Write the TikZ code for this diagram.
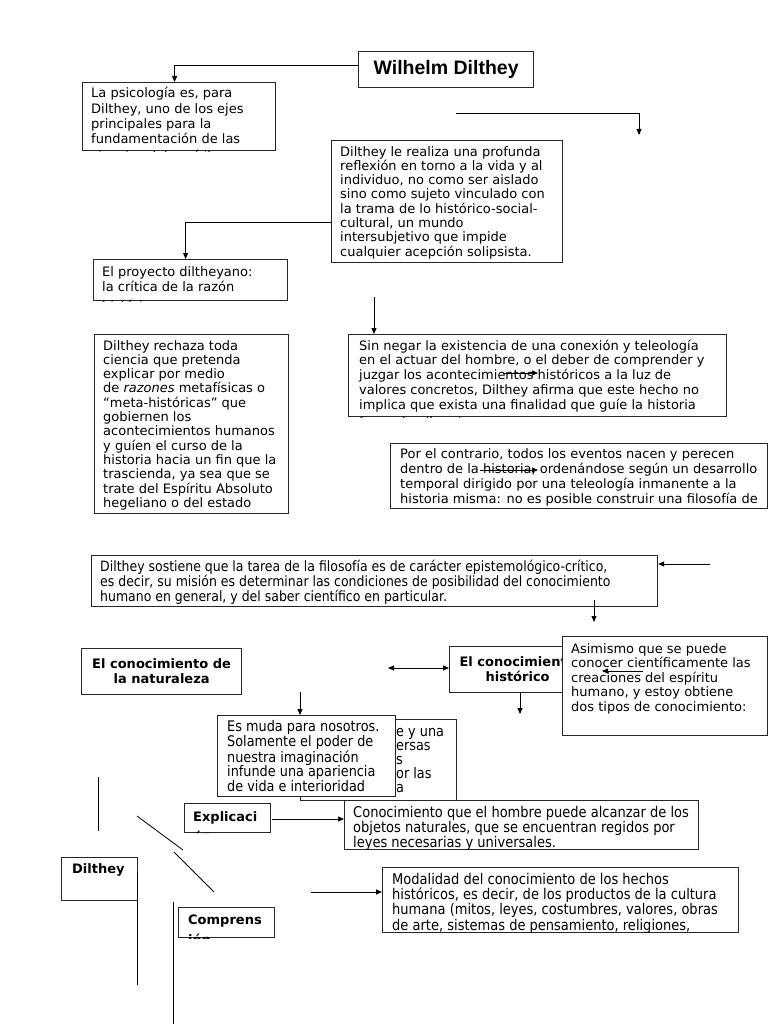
\documentclass[tikz,border=0pt]{standalone}
\usepackage{fontspec}
\setmainfont{DejaVu Sans}
\newfontfamily\cond{DejaVu Sans}[FakeStretch=0.88]
\newfontfamily\arial{Liberation Sans}
\usetikzlibrary{arrows.meta}
\tikzset{
  bx/.style={draw=black!85, line width=1.2pt, fill=white, anchor=north west, inner sep=0pt},
  txt/.style={anchor=base west, inner sep=0pt, align=left},
  rg/.style={txt, font=\fontsize{13}{14.3}\selectfont},
  cd/.style={txt, font=\cond\fontsize{14.8}{15.4}\selectfont},
  bd/.style={txt, font=\bfseries\fontsize{13}{15}\selectfont},
  arr/.style={-{Triangle[length=6pt,width=5pt]}, line width=0.8pt},
  darr/.style={{Triangle[length=6pt,width=5pt]}-{Triangle[length=6pt,width=5pt]}, line width=0.8pt},
  ln/.style={line width=0.8pt}
}
\newcommand\boxat[5]{\node[bx, minimum width={#4pt-#2pt}, minimum height={#5pt-#3pt}] (#1) at (#2,#3) {};}
% #1 box, #2 name, #3 x, #4 baseline of LAST line, #5 style, #6 text
\newcommand\cliptext[6]{\begin{scope}\clip (#1.north west) rectangle (#1.south east);\node[#5] (#2) at (#3,#4) {#6};\end{scope}}
\begin{document}
\begin{tikzpicture}[x=1pt,y=-1pt]
\useasboundingbox[fill=white] (0,0) rectangle (768,1024);

% title
\node[bx, minimum width=175pt, minimum height=36pt, font=\arial\bfseries\fontsize{19.5}{22}\selectfont] (title) at (358,51) {Wilhelm Dilthey};

% box 1
\boxat{b1}{82}{82}{275}{150}
\cliptext{b1}{t1}{91}{{98+4*15.2+1.5}}{rg, font=\fontsize{13}{15.2}\selectfont}{La psicología es, para\\Dilthey, uno de los ejes\\principales para la\\fundamentación de las\\[1.5pt]ciencias del espíritu}
\draw[arr] ([yshift=4pt]title.west) -| ([xshift=-4.5pt]b1.north);

% top right line
\coordinate (c1) at (456,113);
\coordinate (c2) at (639,135);
\draw[arr] (c1) -| (c2);

% box 2
\boxat{b2}{331}{140}{562}{262}
\cliptext{b2}{t2}{340}{{156+7*14.3}}{rg}{Dilthey le realiza una profunda\\reflexión en torno a la vida y al\\individuo, no como ser aislado\\sino como sujeto vinculado con\\la trama de lo histórico-social-\\cultural, un mundo\\intersubjetivo que impide\\cualquier acepción solipsista.}

% box 3
\boxat{b3}{93}{259}{287}{300}
\cliptext{b3}{t3}{102}{{276+2*15+4}}{rg, font=\fontsize{13}{15}\selectfont}{El proyecto diltheyano:\\la crítica de la razón\\[4pt]histórica}
\draw[arr] ([yshift=-21pt]b2.west) -| ([xshift=-5pt]b3.north);

% box 4
\boxat{b4}{94}{334}{288}{513}
\cliptext{b4}{t4}{103}{{350+11*14.3}}{rg}{Dilthey rechaza toda\\ciencia que pretenda\\explicar por medio\\de \textit{razones} metafísicas o\\“meta-históricas” que\\gobiernen los\\acontecimientos humanos\\y guíen el curso de la\\historia hacia un fin que la\\trascienda, ya sea que se\\trate del Espíritu Absoluto\\hegeliano o del estado}

% box 5
\boxat{b5}{348}{334}{726}{416}
\cliptext{b5}{t5}{359}{{350+5*14.8+2}}{rg, font=\fontsize{13}{14.8}\selectfont}{Sin negar la existencia de una conexión y teleología\\en el actuar del hombre, o el deber de comprender y\\juzgar los acontecimientos históricos a la luz de\\valores concretos, Dilthey afirma que este hecho no\\implica que exista una finalidad que guíe la historia\\[2pt]fuera de ella misma.}
\coordinate (c3) at (374,297);
\draw[arr] (c3) -- (c3 |- b5.north);
\coordinate (c4) at (503,373);
\coordinate (c5) at (538,373);
\draw[arr] (c4) -- (c5);

% box 6
\boxat{b6}{390}{443}{767}{508}
\cliptext{b6}{t6}{400}{{458+3*15}}{rg, font=\fontsize{13}{15}\selectfont}{Por el contrario, todos los eventos nacen y perecen\\dentro de la historia, ordenándose según un desarrollo\\temporal dirigido por una teleología inmanente a la\\historia misma: no es posible construir una filosofía de}
\coordinate (c6) at (480,470);
\coordinate (c7) at (538,470);
\draw[arr] (c6) -- (c7);

% box 7
\boxat{b7}{91}{555}{657}{606}
\cliptext{b7}{t7}{100}{{571+2*15}}{txt, font=\cond\fontsize{14.2}{15}\selectfont}{Dilthey sostiene que la tarea de la filosofía es de carácter epistemológico-crítico,\\es decir, su misión es determinar las condiciones de posibilidad del conocimiento\\humano en general, y del saber científico en particular.}
\coordinate (c8) at (710,564);
\draw[arr] (c8) -- (c8 -| b7.east);
\coordinate (c9) at (594,600);
\coordinate (c10) at (594,622);
\draw[arr] (c9) -- (c10);

% naturaleza
\node[bx, minimum width=160pt, minimum height=46pt, align=center, font=\bfseries\fontsize{13}{15}\selectfont] (bnat) at (81,648) {El conocimiento de\\la naturaleza};

% historico + asimismo
\node[bx, minimum width=136pt, minimum height=46pt, align=center, font=\bfseries\fontsize{13}{15}\selectfont] (bhist) at (449,646) {El conocimiento\\histórico};
\coordinate (c11) at (388,668);
\draw[darr] (c11) -- (c11 -| bhist.west);
\boxat{basi}{562}{636}{767}{735}
\cliptext{basi}{tasi}{571}{{653+4*14.5}}{rg, font=\fontsize{13}{14.5}\selectfont}{Asimismo que se puede\\conocer científicamente las\\creaciones del espíritu\\humano, y estoy obtiene\\dos tipos de conocimiento:}
\coordinate (c12) at (643,671);
\coordinate (c13) at (602,671);
\draw[arr] (c12) -- (c13);
\coordinate (c14) at (520,714);
\draw[arr] (c14 |- bhist.south) -- (c14);

% back box + muda
\boxat{bback}{300}{719}{456}{800}
\cliptext{bback}{tback}{396}{{736+4*14.2}}{cd, font=\cond\fontsize{14.6}{14.2}\selectfont}{e y una\\ersas\\s\\or las\\a}
\boxat{bmuda}{217}{715}{395}{796}
\cliptext{bmuda}{tmuda}{227}{{733+4*14.6}}{cd, font=\cond\fontsize{14.6}{14.6}\selectfont}{Es muda para nosotros.\\Solamente el poder de\\nuestra imaginación\\infunde una apariencia\\de vida e interioridad}
\coordinate (c15) at (300,692);
\draw[arr] (c15) -- (c15 |- bmuda.north);

% explicacion
\boxat{bexp}{184}{803}{270}{832}
\cliptext{bexp}{texp}{193}{{821+15+5}}{bd}{Explicaci\\[5pt]ón}
\boxat{bcon}{344}{800}{698}{849}
\cliptext{bcon}{tcon}{353}{{817+2*15.4}}{cd}{Conocimiento que el hombre puede alcanzar de los\\objetos naturales, que se encuentran regidos por\\leyes necesarias y universales.}
\coordinate (c16) at (272,819);
\draw[arr] (c16) -- (c16 -| bcon.west);

% free lines
\coordinate (l1a) at (98,777); \coordinate (l1b) at (98,831);
\draw[ln] (l1a) -- (l1b);
\coordinate (l2a) at (137,816); \coordinate (l2b) at (183,850);
\draw[ln] (l2a) -- (l2b);
\coordinate (l3a) at (174,852); \coordinate (l3b) at (214,892);
\draw[ln] (l3a) -- (l3b);

% Dilthey
\boxat{bdil}{61}{857}{137}{900}
\cliptext{bdil}{tdil}{72}{873}{bd}{Dilthey}
\coordinate (l4a) at (137,872); \coordinate (l4b) at (137,985);
\draw[ln] (l4a) -- (l4b);
\coordinate (l5a) at (173,902); \coordinate (l5b) at (173,1024);
\draw[ln] (l5a) -- (l5b);

% comprension
\boxat{bcomp}{178}{907}{274}{937}
\cliptext{bcomp}{tcomp}{188}{{924+15+5}}{bd}{Comprens\\[5pt]ión}
\boxat{bmod}{382}{867}{738}{932}
\cliptext{bmod}{tmod}{392}{{884+4*15.4}}{cd}{Modalidad del conocimiento de los hechos\\históricos, es decir, de los productos de la cultura\\humana (mitos, leyes, costumbres, valores, obras\\de arte, sistemas de pensamiento, religiones,\\etc.)}
\coordinate (c17) at (311,892);
\draw[arr] (c17) -- (c17 -| bmod.west);
\end{tikzpicture}
\end{document}
